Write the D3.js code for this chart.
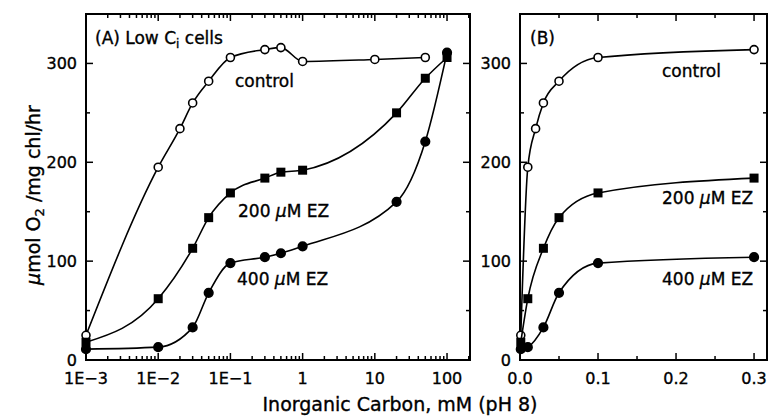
<!DOCTYPE html>
<html>
<head>
<meta charset="utf-8">
<script src="https://cdn.jsdelivr.net/npm/d3@7"></script>
<style>
  body { margin: 0; background: #fff; }
  svg { display: block; font-family: "DejaVu Sans", sans-serif; }
  .frame { fill: none; stroke: #000; stroke-width: 2; }
  .tick { stroke: #000; stroke-width: 1.5; }
  .curve { fill: none; stroke: #000; stroke-width: 1.6; }
  .lbl { font-size: 16px; fill: #000; stroke: #000; stroke-width: 0.35; }
</style>
</head>
<body>
<script>
// inorganic carbon concentrations (mM) and O2 evolution rates
var concA = [0.001, 0.01, 0.02, 0.03, 0.05, 0.1, 0.3, 0.5, 1, 10, 50];
var controlA = [25, 195, 234, 260, 282, 306, 314, 316, 302, 304, 306];

var concEZ = [0.001, 0.01, 0.03, 0.05, 0.1, 0.3, 0.5, 1, 20, 50, 100];
var ez200A = [18, 62, 113, 144, 169, 184, 190, 192, 250, 285, 306];
var ez400A = [11, 13, 33, 68, 98, 104, 108, 115, 160, 221, 311];

var concB = [0.001, 0.01, 0.02, 0.03, 0.05, 0.1, 0.3];
var controlB = [25, 195, 234, 260, 282, 306, 314];
var concBez = [0.001, 0.01, 0.03, 0.05, 0.1, 0.3];
var ez200B = [18, 62, 113, 144, 169, 184];
var ez400B = [11, 13, 33, 68, 98, 104];

var logTicks = [0.001, 0.01, 0.1, 1, 10, 100];
var logTickLabels = ["1E\u22123", "1E\u22122", "1E\u22121", "1", "10", "100"];
var linTicks = [0, 0.1, 0.2, 0.3];
var linTickLabels = ["0.0", "0.1", "0.2", "0.3"];
var yTicks = [0, 100, 200, 300];

var width = 768, height = 418;
var svg = d3.select("body").append("svg")
    .attr("width", width)
    .attr("height", height);

var y = d3.scaleLinear().domain([0, 350]).range([360, 14]);

var xA = d3.scaleLog().domain([0.001, 208]).range([86, 470]);
var xB = d3.scaleLinear().domain([0, 0.3166]).range([520, 767]);

function minorLog(){
    var out = [];
    for (var e = -3; e <= 2; e++) {
        for (var m = 2; m <= 9; m++) {
            var v = m * Math.pow(10, e);
            if (v < xA.domain()[1]) out.push(v);
        }
    }
    return out;
}

function drawPanel(x, majors, labels, minors){
    var x0 = x.range()[0], x1 = x.range()[1];
    var y0 = y.range()[0], y1 = y.range()[1];
    var g = svg.append("g");

    g.append("rect").attr("class", "frame")
        .attr("x", x0).attr("y", y1)
        .attr("width", x1 - x0).attr("height", y0 - y1);

    // x ticks, bottom and top, pointing inward
    majors.forEach(function(v){
        g.append("line").attr("class", "tick")
            .attr("x1", x(v)).attr("x2", x(v)).attr("y1", y0).attr("y2", y0 - 7);
        g.append("line").attr("class", "tick")
            .attr("x1", x(v)).attr("x2", x(v)).attr("y1", y1).attr("y2", y1 + 7);
    });
    minors.forEach(function(v){
        g.append("line").attr("class", "tick")
            .attr("x1", x(v)).attr("x2", x(v)).attr("y1", y0).attr("y2", y0 - 4);
        g.append("line").attr("class", "tick")
            .attr("x1", x(v)).attr("x2", x(v)).attr("y1", y1).attr("y2", y1 + 4);
    });
    g.selectAll(".xl").data(majors).enter().append("text")
        .attr("class", "lbl")
        .attr("x", function(d){ return x(d); })
        .attr("y", y0 + 24)
        .attr("text-anchor", "middle")
        .text(function(d, i){ return labels[i]; });

    // y ticks, left and right
    d3.range(0, 351, 50).forEach(function(v){
        var len = (v % 100 === 0) ? 7 : 4;
        g.append("line").attr("class", "tick")
            .attr("x1", x0).attr("x2", x0 + len).attr("y1", y(v)).attr("y2", y(v));
        g.append("line").attr("class", "tick")
            .attr("x1", x1).attr("x2", x1 - len).attr("y1", y(v)).attr("y2", y(v));
    });
    g.selectAll(".yl").data(yTicks).enter().append("text")
        .attr("class", "lbl")
        .attr("x", x0 - 9)
        .attr("y", function(d){ return y(d) + 6; })
        .attr("text-anchor", "end")
        .text(function(d){ return d; });
    return g;
}

function drawSeries(g, x, xs, ys, filled, shape){
    var pts = xs.map(function(v, i){ return [x(v), y(ys[i])]; });
    g.append("path").attr("class", "curve")
        .attr("d", d3.line().curve(d3.curveMonotoneX)(pts));
    if (shape === "square") {
        g.selectAll(null).data(pts).enter().append("rect")
            .attr("x", function(d){ return d[0] - 4.5; })
            .attr("y", function(d){ return d[1] - 4.5; })
            .attr("width", 9).attr("height", 9)
            .attr("fill", "#000");
    } else {
        g.selectAll(null).data(pts).enter().append("circle")
            .attr("cx", function(d){ return d[0]; })
            .attr("cy", function(d){ return d[1]; })
            .attr("r", filled ? 4.3 : 4)
            .attr("fill", filled ? "#000" : "#fff")
            .attr("stroke", "#000")
            .attr("stroke-width", 1.6);
    }
}

function note(x, yy, str){
    svg.append("text").attr("class", "lbl")
        .style("font-size", "17px")
        .attr("x", x).attr("y", yy).html(str);
}

var mu = '<tspan font-style="italic">\u03bc</tspan>';

// panel A (log scale)
var gA = drawPanel(xA, logTicks, logTickLabels, minorLog());
drawSeries(gA, xA, concA, controlA, false, "circle");
drawSeries(gA, xA, concEZ, ez200A, true, "square");
drawSeries(gA, xA, concEZ, ez400A, true, "circle");

// panel B (linear scale)
var gB = drawPanel(xB, linTicks, linTickLabels, [0.05, 0.15, 0.25]);
drawSeries(gB, xB, concB, controlB, false, "circle");
drawSeries(gB, xB, concBez, ez200B, true, "square");
drawSeries(gB, xB, concBez, ez400B, true, "circle");

// annotations
note(95, 44, '(A) Low C<tspan font-size="12" dy="4">i</tspan><tspan dy="-4"> cells</tspan>');
note(235, 87, "control");
note(238, 217, "200 " + mu + "M EZ");
note(237, 285, "400 " + mu + "M EZ");
note(530, 44, "(B)");
note(662, 77, "control");
note(662, 204, "200 " + mu + "M EZ");
note(662, 285, "400 " + mu + "M EZ");

// axis titles
svg.append("text").attr("class", "lbl")
    .attr("transform", "translate(40,195) rotate(-90)")
    .attr("text-anchor", "middle")
    .style("font-size", "19px")
    .html(mu + 'mol O<tspan font-size="13" dy="4">2</tspan><tspan dy="-4"> /mg chl/hr</tspan>');

svg.append("text").attr("class", "lbl")
    .attr("x", 400).attr("y", 411)
    .attr("text-anchor", "middle")
    .style("font-size", "19px")
    .text("Inorganic Carbon, mM (pH 8)");
</script>
</body>
</html>
